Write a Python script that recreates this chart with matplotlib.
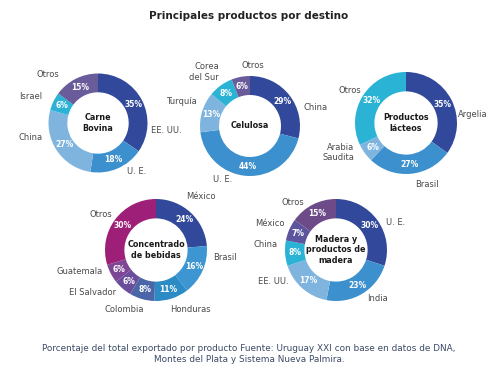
import matplotlib
matplotlib.use("Agg")
import matplotlib.pyplot as plt
import numpy as np

# DATA
carne_labels = ['EE. UU.', 'U. E.', 'China', 'Israel', 'Otros']
carne_values = [35, 18, 27, 6, 15]

celulosa_labels = ['China', 'U. E.', 'Turquía', 'Corea\ndel Sur', 'Otros']
celulosa_values = [29, 44, 13, 8, 6]

lacteos_labels = ['Argelia', 'Brasil', 'Arabia\nSaudita', 'Otros']
lacteos_values = [35, 27, 6, 32]

bebidas_labels = ['México', 'Brasil', 'Honduras', 'Colombia', 'El Salvador', 'Guatemala', 'Otros']
bebidas_values = [24, 16, 11, 8, 6, 6, 30]

madera_labels = ['U. E.', 'India', 'EE. UU.', 'China', 'México', 'Otros']
madera_values = [30, 23, 17, 8, 7, 15]

# colours
NAVY = '#32499b'
MID = '#3b90cd'
LIGHT = '#7fb4de'
CYAN = '#2ab3d4'
PURPLE = '#6a5b9b'

W, H = 498, 379
fig = plt.figure(figsize=(W / 100, H / 100), dpi=100)
fig.patch.set_facecolor('white')

TXT = '#4a4a4a'


def donut(cx, cy, r, values, labels, colors, title, label_pos):
    # axes in pixel coords, limits in units of the radius
    ax = fig.add_axes([(cx - 1.5 * r) / W, 1 - (cy + 1.5 * r) / H, 3 * r / W, 3 * r / H])
    ax.pie(values, colors=colors, startangle=90, counterclock=False,
           radius=1, wedgeprops=dict(width=0.38, edgecolor='none'))
    ax.set_xlim(-1.5, 1.5)
    ax.set_ylim(-1.5, 1.5)
    ax.set_aspect('equal')
    ax.axis('off')
    total = float(sum(values))
    start = 0
    for v in values:
        mid = start + v / 2.0
        ang = np.deg2rad(90 - 360 * mid / total)
        ax.text(0.81 * np.cos(ang), 0.81 * np.sin(ang), '%d%%' % v, color='white',
                fontsize=5.5, fontweight='bold', ha='center', va='center')
        start += v
    ax.text(0, 0, title, ha='center', va='center', fontsize=5.8, fontweight='bold',
            color='#1a1a1a', linespacing=1.25)
    for lab, (x, y, ha) in zip(labels, label_pos):
        ax.text(x, y, lab, ha=ha, va='center', fontsize=6, color=TXT,
                linespacing=1.25, clip_on=False)


donut(98, 123, 49.5, carne_values, carne_labels,
      [NAVY, MID, LIGHT, CYAN, PURPLE], 'Carne\nBovina',
      [(1.08, -0.16, 'left'), (0.58, -0.98, 'left'), (-1.36, -0.3, 'center'),
       (-1.36, 0.54, 'center'), (-1.02, 0.98, 'center')])

donut(250, 126, 50, celulosa_values, celulosa_labels,
      [NAVY, MID, LIGHT, CYAN, PURPLE], 'Celulosa',
      [(1.06, 0.38, 'left'), (-0.54, -1.08, 'center'), (-1.06, 0.5, 'right'),
       (-0.62, 1.08, 'right'), (0.06, 1.2, 'center')])

donut(406, 123, 51, lacteos_values, lacteos_labels,
      [NAVY, MID, LIGHT, CYAN], 'Productos\nlácteos',
      [(1.02, 0.16, 'left'), (0.42, -1.2, 'center'), (-1.02, -0.58, 'right'),
       (-0.88, 0.64, 'right')])

donut(156, 250, 51, bebidas_values, bebidas_labels,
      [NAVY, '#3d95d2', '#2c8bc5', '#4b66a8', '#6a4e9c', '#7d4796', '#9e1f78'],
      'Concentrado\nde bebidas',
      [(0.88, 1.04, 'center'), (1.12, -0.14, 'left'), (0.68, -1.16, 'center'),
       (-0.62, -1.16, 'center'), (-0.78, -0.84, 'right'), (-1.04, -0.42, 'right'),
       (-0.86, 0.7, 'right')])

donut(336, 250, 51, madera_values, madera_labels,
      [NAVY, MID, LIGHT, CYAN, '#5c549c', '#6d4a88'],
      'Madera y\nproductos de\nmadera',
      [(0.98, 0.54, 'left'), (0.82, -0.96, 'center'), (-0.92, -0.62, 'right'),
       (-1.14, 0.1, 'right'), (-1.0, 0.52, 'right'), (-0.62, 0.94, 'right')])

fig.text(249 / W, 1 - 16 / H, 'Principales productos por destino', ha='center', va='center',
         fontsize=7.5, fontweight='bold', color='#222222')

fig.text(249 / W, 1 - 354 / H,
         'Porcentaje del total exportado por producto Fuente: Uruguay XXI con base en datos de DNA,\n'
         'Montes del Plata y Sistema Nueva Palmira.',
         ha='center', va='center', fontsize=6.4, color='#3c4a66', linespacing=1.15)

fig.savefig('out.png', dpi=100, facecolor='white')
